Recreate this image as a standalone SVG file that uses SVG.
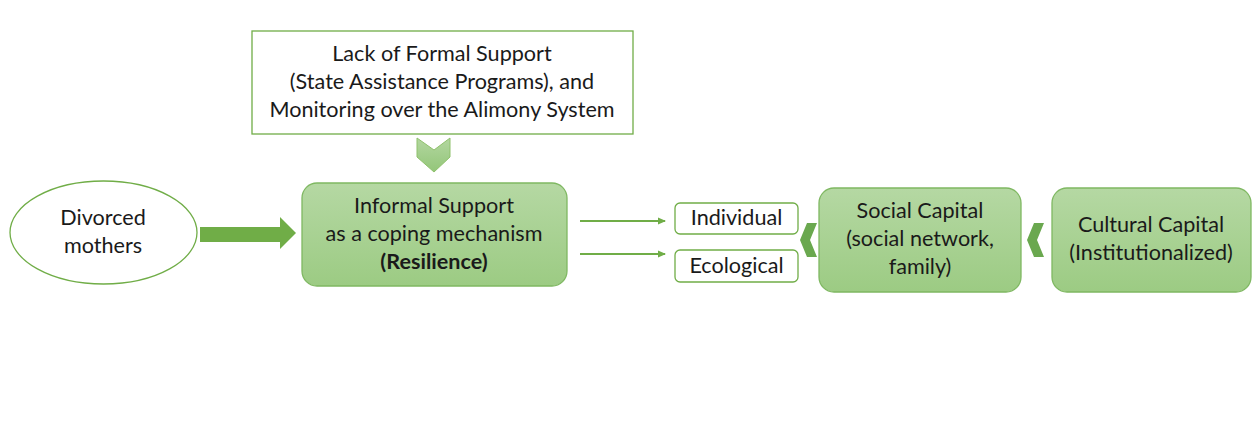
<svg xmlns="http://www.w3.org/2000/svg" width="1252" height="440" viewBox="0 0 1252 440">
  <style>
    text { font-family: Lato, "Open Sans", "Liberation Sans", sans-serif; font-size: 21.6px; fill: #1a1a1a; text-anchor: middle; }
    .bold { font-weight: bold; }
    .plain { fill: #ffffff; stroke: #70ad47; stroke-width: 1.3; }
    .green { fill: url(#gfill); stroke: #7fb862; stroke-width: 1.3; }
    .conn { stroke: #70ad47; stroke-width: 2; fill: none; }
    .chev { fill: #6aa84f; }
  </style>
  <defs>
    <linearGradient id="gfill" x1="0" y1="0" x2="0" y2="1">
      <stop offset="0" stop-color="#b5d8a3"/>
      <stop offset="1" stop-color="#9ccb83"/>
    </linearGradient>
    <linearGradient id="chevfill" x1="0" y1="0" x2="0" y2="1">
      <stop offset="0" stop-color="#b3d7a0"/>
      <stop offset="1" stop-color="#93c679"/>
    </linearGradient>
    <marker id="arr" markerWidth="8" markerHeight="8" refX="7" refY="4" orient="auto" markerUnits="userSpaceOnUse">
      <path d="M0,0.5 L8,4 L0,7.5 Z" fill="#70ad47"/>
    </marker>
  </defs>

  <g id="formal-support">
    <rect class="plain" x="252" y="31" width="381" height="103"/>
    <text x="442" y="61">Lack of Formal Support</text>
    <text x="442" y="89">(State Assistance Programs), and</text>
    <text x="442" y="117">Monitoring over the Alimony System</text>
  </g>

  <g id="divorced-mothers">
    <ellipse class="plain" cx="103.5" cy="232.5" rx="93.5" ry="51.5"/>
    <text x="103" y="225">Divorced</text>
    <text x="103" y="253">mothers</text>
  </g>

  <g id="informal-support">
    <rect class="green" x="302" y="183" width="265" height="103" rx="15"/>
    <text x="434" y="213">Informal Support</text>
    <text x="434" y="241">as a coping mechanism</text>
    <text class="bold" x="434" y="269">(Resilience)</text>
  </g>

  <g id="individual">
    <rect class="plain" x="675" y="203" width="123" height="31" rx="5"/>
    <text x="736.5" y="225">Individual</text>
  </g>

  <g id="ecological">
    <rect class="plain" x="675" y="250" width="123" height="32" rx="5"/>
    <text x="736.5" y="273">Ecological</text>
  </g>

  <g id="social-capital">
    <rect class="green" x="819" y="188" width="202" height="104" rx="15"/>
    <text x="920" y="218">Social Capital</text>
    <text x="920" y="246">(social network,</text>
    <text x="920" y="274">family)</text>
  </g>

  <g id="cultural-capital">
    <rect class="green" x="1052" y="188" width="199" height="104" rx="15"/>
    <text x="1151" y="232">Cultural Capital</text>
    <text x="1151" y="260">(Institutionalized)</text>
  </g>

  <g id="connectors">
    <!-- downward chevron under the formal support box -->
    <path d="M417,138 L434,150 L450,138 L450,157 L434,172 L417,157 Z" fill="url(#chevfill)" stroke="#8fc16c" stroke-width="1"/>
    <!-- block arrow from mothers to informal support -->
    <path d="M200,227 L280,227 L280,217 L296,233 L280,249 L280,242 L200,242 Z" fill="#70ad47"/>
    <!-- thin arrows to the two resilience types -->
    <line class="conn" x1="580" y1="221" x2="665" y2="221" marker-end="url(#arr)"/>
    <line class="conn" x1="580" y1="254" x2="665" y2="254" marker-end="url(#arr)"/>
    <!-- left chevrons between capital boxes -->
    <path class="chev" d="M807,223 L817,223 L810,240 L817,257 L807,257 L800,240 Z"/>
    <path class="chev" d="M1034,223 L1044,223 L1037,240 L1044,257 L1034,257 L1027,240 Z"/>
  </g>
</svg>
